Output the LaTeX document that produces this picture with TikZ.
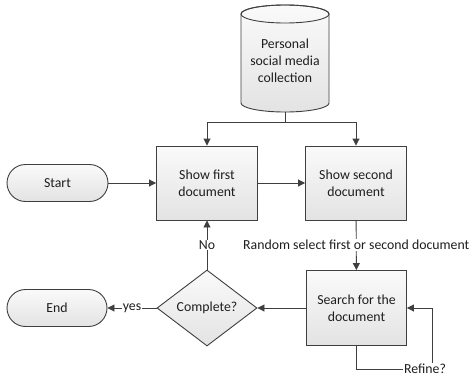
\documentclass[tikz,border=0pt]{standalone}
\usepackage{fontspec}
\setmainfont{Carlito}
\usetikzlibrary{arrows.meta,shapes.geometric}
\definecolor{ln}{HTML}{3F3F3F}
\definecolor{tx}{HTML}{1E1E1E}
\tikzset{
  base/.style={draw=ln, line width=0.9pt, top color=white!98!black, bottom color=black!11, text=tx,
    font=\fontsize{13.8}{17}\selectfont, align=center, inner sep=0pt},
  procbox/.style={base, rectangle, minimum width=101, minimum height=74},
  termbox/.style={base, rectangle, rounded corners=18.5, minimum width=101, minimum height=37},
  decbox/.style={base, diamond, aspect=1.3, minimum width=100, minimum height=76},
  arr/.style={draw=ln, line width=0.9pt, -{Triangle[length=7pt,width=7pt]}},
  plain/.style={draw=ln, line width=0.9pt},
  lbl/.style={fill=white, text=tx, font=\fontsize{13.8}{15}\selectfont, inner sep=1pt},
}
\begin{document}
\begin{tikzpicture}[x=1pt,y=-1pt]
\useasboundingbox[fill=white] (0,0) rectangle (470,378);
% cylinder
\path[top color=white!98!black, bottom color=black!11, shading angle=0]
  (241,14) -- (241,103) arc[start angle=180,end angle=0,x radius=44,y radius=9]
  -- (329,14) arc[start angle=0,end angle=-180,x radius=44,y radius=9] -- cycle;
\draw[plain]
  (241,14) -- (241,103) arc[start angle=180,end angle=0,x radius=44,y radius=9]
  -- (329,14) arc[start angle=0,end angle=-180,x radius=44,y radius=9] -- cycle;
\draw[plain] (285,14) ellipse[x radius=44, y radius=9];
\node[text=tx, font=\fontsize{13.8}{17}\selectfont, align=center, inner sep=0pt,
  minimum width=88, minimum height=102] (cyl) at (285,61) {Personal\\social media\\collection};

\node[procbox] (b1) at (207,183) {Show first\\document};
\node[procbox] (b2) at (356,183) {Show second\\document};
\node[procbox, minimum width=100, minimum height=75] (b3) at (356.5,308) {Search for the\\document};
\node[termbox] (start) at (57.5,183) {Start};
\node[termbox, minimum width=100] (end) at (57,308) {End};
\node[decbox] (dia) at (207,308) {Complete?};

\coordinate (sp) at (285,122);
\draw[plain] (cyl.south) -- (sp);
\draw[arr] (sp) -| (b1.north);
\draw[arr] (sp) -| (b2.north);
\draw[arr] (start) -- (b1);
\draw[arr] (b1) -- (b2);
\draw[arr] (b2) -- node[lbl] {Random select first or second document} (b3);
\draw[arr] (b3) -- (dia);
\draw[arr] (dia) -- node[lbl] {No} (b1);
\draw[arr] (dia) -- node[lbl] {yes} (end);
\coordinate (rc) at (432,369);
\draw[arr] (b3.south) |- (rc) |- (b3.east);
\node[lbl] (ref) at (425,369) {Refine?};
\end{tikzpicture}
\end{document}
